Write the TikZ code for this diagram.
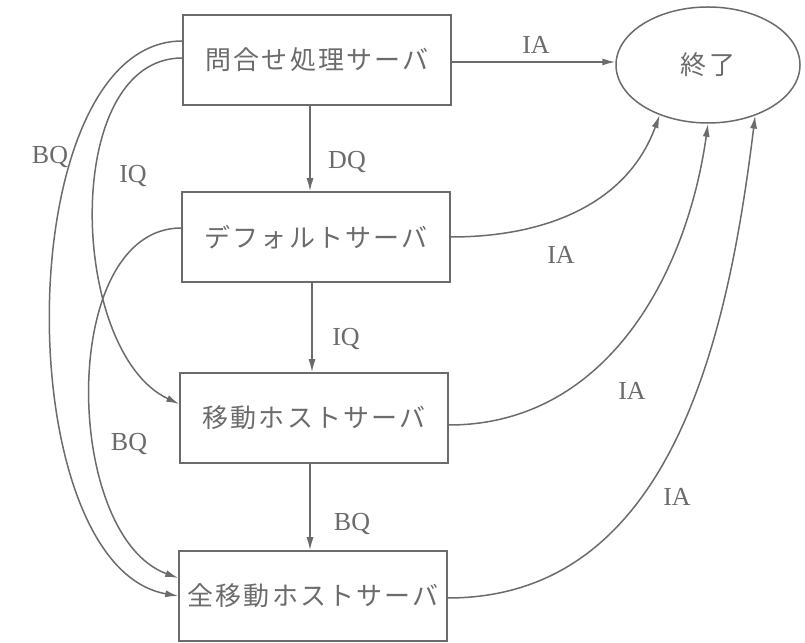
\documentclass[tikz,border=0pt]{standalone}
\usepackage{fontspec}
\setmainfont{Liberation Serif}
\newfontfamily\jpfont[LetterSpace=8]{Noto Sans CJK JP}
\usetikzlibrary{shapes.geometric,arrows.meta}
\definecolor{ink}{gray}{0.42}

\begin{document}
\begin{tikzpicture}[x=1pt,y=1pt,
  server/.style={draw=ink, line width=1.5pt, minimum width=268pt, minimum height=90pt, inner sep=0pt, text=ink, font=\jpfont\fontsize{26}{26}\selectfont},
  finish/.style={ellipse, draw=ink, line width=1.5pt, minimum width=184pt, minimum height=116pt, inner sep=0pt, text=ink, font=\jpfont\fontsize{26}{26}\selectfont},
  flow/.style={draw=ink, line width=1.5pt, arrows={-Latex[length=13pt, width=7pt]}},
  tag/.style={text=ink, inner sep=0pt, font=\fontsize{26}{26}\selectfont}]
  \useasboundingbox (0,0) rectangle (805,642);

  \node[server] (query) at (317,582) {問合せ処理サーバ};
  \node[server] (default) at (316,405) {デフォルトサーバ};
  \node[server] (mobile) at (314,224) {移動ホストサーバ};
  \node[server] (allmobile) at (313,46) {全移動ホストサーバ};
  \node[finish] (done) at (708,577) {終了};

  \draw[flow] ([yshift=-2pt]query.east) -- ([yshift=-2pt]query.east -| done.west);
  \draw[flow] ([xshift=-7pt]query.south) -- ([xshift=-7pt]query.south |- default.north);
  \draw[flow] ([xshift=-4pt]default.south) -- ([xshift=-4pt]default.south |- mobile.north);
  \draw[flow] ([xshift=-4pt]mobile.south) -- ([xshift=-4pt]mobile.south |- allmobile.north);

  \draw[flow] (default.east) to[out=0, in=-110] (done.226);
  \draw[flow] ([yshift=-7pt]mobile.east) to[out=0, in=-98] (done.270);
  \draw[flow] ([yshift=-2pt]allmobile.east) to[out=0, in=-97] (done.313);

  \draw[flow] ([yshift=19pt]query.west) to[out=180, in=170, looseness=0.8] (allmobile.west);
  \draw[flow] ([yshift=2pt]query.west) to[out=180, in=155, looseness=0.9] ([yshift=14pt]mobile.west);
  \draw[flow] ([yshift=9pt]default.west) to[out=180, in=160, looseness=0.9] ([yshift=18pt]allmobile.west);

  \node[tag] (ia1) at (536,597) {IA};
  \node[tag] (dq) at (347,480) {DQ};
  \node[tag] (iq1) at (346,303) {IQ};
  \node[tag] (bq1) at (352,118) {BQ};
  \node[tag] (ia2) at (561,387) {IA};
  \node[tag] (ia3) at (632,251) {IA};
  \node[tag] (ia4) at (677,145) {IA};
  \node[tag] (bq2) at (50,485) {BQ};
  \node[tag] (iq2) at (133,466) {IQ};
  \node[tag] (bq3) at (129,198) {BQ};
\end{tikzpicture}
\end{document}
